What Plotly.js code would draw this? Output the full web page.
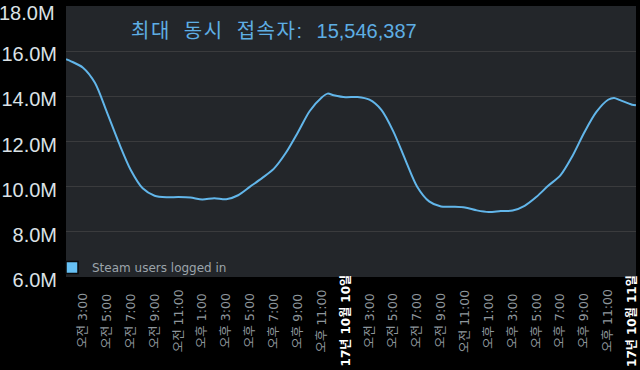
<!DOCTYPE html>
<html><head><meta charset="utf-8">
<script src="https://cdn.plot.ly/plotly-3.0.1.min.js"></script>
<style>html,body{margin:0;padding:0;background:#000;}#chart{width:640px;height:370px;}</style>
</head><body><div id="chart"></div>
<script>
// Hours counted from midnight of the first day shown
const hours = [1.58, 2, 3, 4, 5, 6, 7, 8, 9, 10, 11, 12, 13, 14, 15, 16, 17, 18, 19, 20, 21, 22, 23, 23.5, 24,
  25, 26, 27, 28, 29, 30, 31, 32, 33, 34, 35, 36, 37, 38, 39, 40, 41, 42, 43, 44, 45, 46, 47, 47.5, 48, 49, 49.33];
// Steam users logged in (millions)
const usersMillions = [15.64, 15.55, 15.27, 14.6, 13.3, 11.95, 10.74, 9.93, 9.6, 9.53, 9.54, 9.52, 9.43, 9.49, 9.44, 9.62,
  10.0, 10.38, 10.8, 11.5, 12.4, 13.35, 13.95, 14.12, 14.05,
  13.96, 13.97, 13.85, 13.4, 12.45, 11.2, 10.0, 9.35, 9.12, 9.11, 9.08, 8.95, 8.88, 8.92, 8.94, 9.15, 9.55,
  10.05, 10.5, 11.35, 12.4, 13.3, 13.85, 13.93, 13.83, 13.63, 13.6];
const tickHours = [3, 5, 7, 9, 11, 13, 15, 17, 19, 21, 23, 25, 27, 29, 31, 33, 35, 37, 39, 41, 43, 45, 47, 49];
const tickLabels = ['오전 3:00', '오전 5:00', '오전 7:00', '오전 9:00', '오전 11:00', '오후 1:00', '오후 3:00', '오후 5:00',
  '오후 7:00', '오후 9:00', '오후 11:00', '17년 10월 10일', '오전 3:00', '오전 5:00', '오전 7:00', '오전 9:00', '오전 11:00',
  '오후 1:00', '오후 3:00', '오후 5:00', '오후 7:00', '오후 9:00', '오후 11:00', '17년 10월 11일'];
const yTicks = [6, 8, 10, 12, 14, 16, 18];
const yTickLabels = ['6.0M', '8.0M', '10.0M', '12.0M', '14.0M', '16.0M', '18.0M'];
const titleLabel = '최대 동시 접속자: ';
const titleValue = '15,546,387';
const seriesName = 'Steam users logged in';

const lineColor = '#62b6ea';
const yFont = {family: 'Liberation Sans, Arial', size: 20, color: '#dbe2e6'};
const traces = [
  {
    type: 'scatter', mode: 'lines', x: hours, y: usersMillions, name: seriesName,
    line: {color: lineColor, width: 2, shape: 'spline', smoothing: 0.8},
    showlegend: false, hoverinfo: 'skip'
  },
  {
    type: 'bar', x: [null], y: [null], name: seriesName, showlegend: true,
    marker: {color: '#66c0f4', line: {color: '#0a0a0a', width: 1.5}}
  }
];

const annotations = tickHours.map((h, i) => {
  const isDate = tickLabels[i].indexOf('년') >= 0;
  return {
    x: h, xref: 'x', y: -0.162, yref: 'paper', text: tickLabels[i], textangle: -90,
    showarrow: false, xanchor: 'center', yanchor: 'middle',
    font: {family: 'DejaVu Sans, Noto Sans CJK KR', size: isDate ? 12 : 12.5,
      color: isDate ? '#ffffff' : '#8f979d', weight: isDate ? 'bold' : 'normal'}
  };
});
// The top tick label sits lower so it stays inside the picture
const topIdx = yTicks.length - 1;
annotations.push({
  x: 0, xref: 'paper', xanchor: 'right', xshift: -9, y: yTicks[topIdx], yref: 'y', yanchor: 'middle', yshift: -7,
  text: yTickLabels[topIdx], showarrow: false, font: yFont
});
const yTickText = yTickLabels.map((t, i) => i === topIdx ? '' : t);

const layout = {
  width: 640, height: 370,
  paper_bgcolor: '#000000', plot_bgcolor: '#23262a',
  margin: {l: 66, r: 4, t: 6, b: 93, pad: 0},
  title: {
    text: '<span style="letter-spacing:1.5px;word-spacing:6px">' + titleLabel + '</span>' + titleValue,
    x: 131 / 640, xref: 'container', xanchor: 'left',
    y: 1 - 31 / 370, yref: 'container', yanchor: 'middle',
    font: {family: 'Liberation Sans, Noto Sans CJK KR', size: 20, color: '#5eaee4'}
  },
  xaxis: {
    range: [1.576, 49.335], tickvals: tickHours, ticktext: tickLabels, showticklabels: false,
    showgrid: false, zeroline: false, showline: false, fixedrange: true
  },
  yaxis: {
    range: [5.999, 18.001], tickmode: 'array', tickvals: yTicks, ticktext: yTickText,
    showgrid: true, gridcolor: '#3a3b3d', gridwidth: 1, zeroline: false, showline: false,
    ticklabelstandoff: 8, ticklabelshift: 3, ticklabeloverflow: 'allow',
    tickfont: yFont
  },
  showlegend: true,
  legend: {
    x: -14 / 570, xref: 'paper', xanchor: 'left', y: -5 / 271, yref: 'paper', yanchor: 'bottom',
    bgcolor: 'rgba(0,0,0,0)', borderwidth: 0, itemwidth: 30,
    font: {family: 'DejaVu Sans', size: 12, color: '#9ca4aa'}
  },
  annotations: annotations
};

Plotly.newPlot('chart', traces, layout, {displayModeBar: false, staticPlot: true});
</script>
</body></html>
